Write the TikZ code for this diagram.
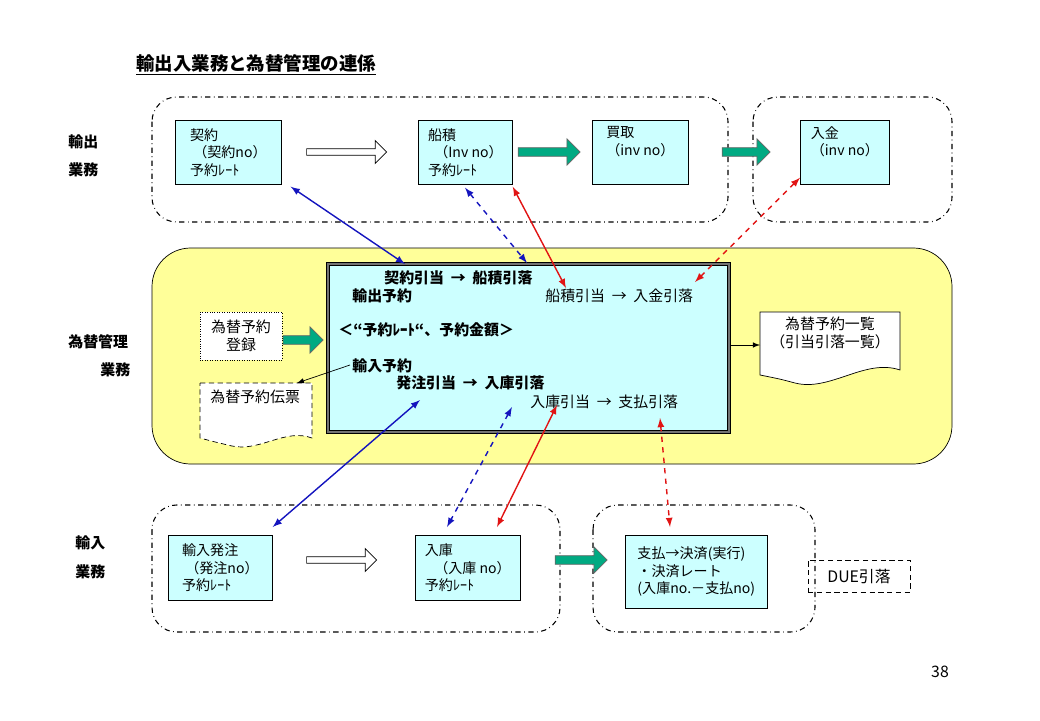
\documentclass[tikz,border=0pt]{standalone}
\usepackage{fontspec}
\setmainfont{Noto Sans CJK JP}
\usetikzlibrary{positioning}
\usetikzlibrary{shapes.arrows}
\usetikzlibrary{calc}
\definecolor{boxcyan}{RGB}{204,255,255}
\definecolor{panelyel}{RGB}{255,255,153}
\definecolor{arrgreen}{RGB}{0,170,130}
\definecolor{lnblue}{RGB}{20,20,190}
\definecolor{lnred}{RGB}{225,20,20}
\tikzset{
  group/.style={draw=black, dash dot, rounded corners=14pt, semithick},
  flowbox/.style={draw, fill=boxcyan, align=left, anchor=north west, inner sep=3pt,
    font=\fontsize{8}{10}\selectfont},
  fatarrow/.style={single arrow, draw=black!60, fill=arrgreen, minimum height=#1,
    minimum width=15pt, single arrow head extend=2.5pt, inner sep=1pt},
  hollowarrow/.style={single arrow, draw, fill=white, minimum height=#1,
    minimum width=13pt, single arrow head extend=3pt, inner sep=1pt},
  link/.style={<->, >=latex, thick},
  lbl/.style={font=\fontsize{8.5}{10}\selectfont\bfseries, anchor=west, inner sep=0pt},
  ltxt/.style={font=\fontsize{8.5}{10}\selectfont, anchor=west, inner sep=0pt}
}
\begin{document}
\begin{tikzpicture}[x=0.02cm,y=-0.02cm]
\useasboundingbox (0,0) rectangle (1040,720);
% title
\node[anchor=west, font=\fontsize{10.5}{12}\selectfont\bfseries] (title) at (130,65)
  {\underline{輸出入業務と為替管理の連係}};
% side labels
\node[lbl] (lexp1) at (68,142) {輸出};
\node[lbl] (lexp2) at (68,170) {業務};
\node[lbl] (lfx1) at (68,342) {為替管理};
\node[lbl] (lfx2) at (100,370) {業務};
\node[lbl] (limp1) at (75,543) {輸入};
\node[lbl] (limp2) at (75,572) {業務};
% export
\draw[group] (152,97) rectangle (728,222);
\draw[group] (753,97) rectangle (952,222);
\node[flowbox, minimum width=2.12cm, minimum height=1.28cm] (keiyaku) at (175,120)
  {契約\\\ （契約no）\\予約ﾚｰﾄ};
\node[flowbox, minimum width=1.88cm, minimum height=1.28cm] (funazumi) at (418,120)
  {船積\\\ \ （Inv no）\\予約ﾚｰﾄ};
\node[flowbox, minimum width=1.92cm, minimum height=1.28cm] (kaitori) at (592,120)
  {買取\\（inv no）\\\strut};
\node[flowbox, minimum width=1.78cm, minimum height=1.28cm] (nyukin) at (800,120)
  {入金\\（inv no）\\\strut};
\node[hollowarrow=1.6cm] (ha1) at (345,152) {};
\node[fatarrow=1.24cm] (ga1) at (547,152) {};
\node[fatarrow=0.96cm] (ga2) at (744,152) {};
% fx panel
\draw[fill=panelyel, rounded corners=22pt] (152,248) rectangle (952,464);
\draw[fill=black!55] (326,262) rectangle (730,433);
\node[draw, fill=boxcyan, minimum width=7.96cm, minimum height=3.3cm,
  anchor=north west, inner sep=0pt] (yoyaku) at (329,265) {};
\node[lbl] (t1) at (384,278) {契約引当\ \ →\ \ 船積引落};
\node[lbl] (t2) at (352,296) {輸出予約};
\node[ltxt] (t3) at (545,296) {船積引当\ \ →\ \ 入金引落};
\node[lbl] (t4) at (338,330) {＜“予約ﾚｰﾄ“、予約金額＞};
\node[lbl] (t5) at (352,366) {輸入予約};
\node[lbl] (t6) at (396,383) {発注引当\ \ →\ \ 入庫引落};
\node[ltxt] (t7) at (530,402) {入庫引当\ \ →\ \ 支払引落};
\node[draw, densely dotted, fill=white, minimum width=1.64cm, minimum height=0.96cm,
  align=center, font=\fontsize{8.5}{10}\selectfont] (toroku) at (241,336) {為替予約\\登録};
\node[fatarrow=0.8cm] (ga3) at (301,340) {};
% documents
\draw[densely dashed, fill=white] (200,383) -- (312,383) -- (312,438)
  .. controls (285,428) and (260,452) .. (232,446) .. controls (215,442) .. (200,438) -- cycle;
\node[ltxt, font=\fontsize{8.5}{10}\selectfont] (denpyo) at (210,397) {為替予約伝票};
\draw[fill=white] (760,312) -- (900,312) -- (900,370)
  .. controls (865,358) and (830,392) .. (795,383) .. controls (780,379) .. (760,375) -- cycle;
\node[align=center, font=\fontsize{8.5}{10}\selectfont] (ichiran) at (830,333)
  {為替予約一覧\\（引当引落一覧）};
\coordinate (denpyotop) at (297,383);
\coordinate (ichiranleft) at (760,345);
\draw[->, >=latex] (350,365) -- (denpyotop);
\draw[->, >=latex] (730,345) -- (ichiranleft);
% import
\draw[group] (152,505) rectangle (560,632);
\draw[group] (593,505) rectangle (815,632);
\node[flowbox, minimum width=2.08cm, minimum height=1.3cm] (hatchu) at (168,535)
  {輸入発注\\\ （発注no）\\予約ﾚｰﾄ};
\node[flowbox, minimum width=2.1cm, minimum height=1.3cm] (nyuko) at (415,535)
  {入庫\\\ \ \ （入庫\ no）\\予約ﾚｰﾄ};
\node[flowbox, minimum width=2.84cm, minimum height=1.46cm] (shiharai) at (625,535)
  {支払→決済(実行)\\・決済レート\\(入庫no.－支払no)};
\node[hollowarrow=1.4cm] (ha2) at (340,560) {};
\node[fatarrow=1.04cm] (ga4) at (579,560) {};
\node[draw, densely dashed, minimum width=2.04cm, minimum height=0.64cm,
  font=\fontsize{9}{10}\selectfont] (due) at (859,576) {DUE引落};
\node[font=\fontsize{9}{10}\selectfont] (page) at (940,672) {38};
% links
\coordinate (m1) at (405,264);
\coordinate (m2) at (527,263);
\coordinate (m3) at (566,288);
\coordinate (m4) at (695,282);
\coordinate (m5) at (420,400);
\coordinate (m6) at (512,407);
\coordinate (m7) at (557,405);
\coordinate (m8) at (660,418);
\draw[link, lnblue] ($(keiyaku.south east)+(9,2)$) -- (m1);
\draw[link, lnblue, dashed] ($(funazumi.south west)+(47,3)$) -- (m2);
\draw[link, lnred] ($(funazumi.south east)+(0,2)$) -- (m3);
\draw[link, lnred, dashed] ($(nyukin.south west)+(0,-7)$) -- (m4);
\draw[link, lnblue] (m5) -- ($(hatchu.north east)+(0,-8)$);
\draw[link, lnblue, dashed] (m6) -- ($(nyuko.north west)+(32,-8)$);
\draw[link, lnred] (m7) -- ($(nyuko.north west)+(82,-8)$);
\draw[link, lnred, dashed] (m8) -- ($(shiharai.north west)+(45,-8)$);
\end{tikzpicture}
\end{document}
